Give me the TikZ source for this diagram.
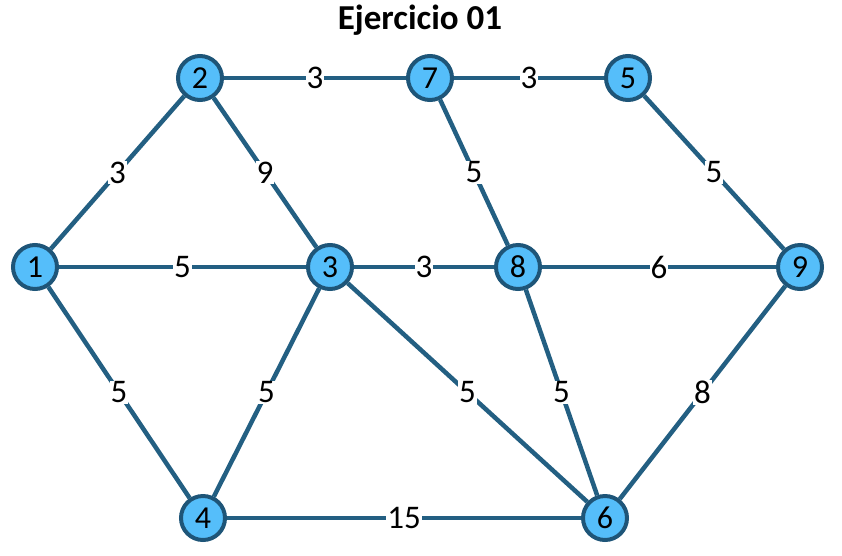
\documentclass[tikz,border=0pt]{standalone}
\usepackage{fontspec}
\setmainfont{Carlito}
\definecolor{edgec}{RGB}{35,95,130}
\definecolor{nodefill}{RGB}{85,190,250}
\definecolor{nodeborder}{RGB}{30,85,120}
\begin{document}
\begin{tikzpicture}[x=1pt,y=-1pt,
  vert/.style={circle,draw=nodeborder,line width=4pt,fill=nodefill,minimum size=44pt,inner sep=0pt,font=\fontsize{32}{32}\selectfont},
  edge/.style={draw=edgec,line width=4.5pt},
  wt/.style={fill=white,inner sep=1pt,font=\fontsize{33}{33}\selectfont}]
\useasboundingbox (0,0) rectangle (842,555);
\node[font=\bfseries\fontsize{35}{35}\selectfont] (title) at (420,20) {Ejercicio 01};
\node[vert] (n1) at (35,267) {1};
\node[vert] (n2) at (200,78) {2};
\node[vert] (n7) at (430,78) {7};
\node[vert] (n5) at (628,78) {5};
\node[vert] (n3) at (330,267) {3};
\node[vert] (n8) at (518,267) {8};
\node[vert] (n9) at (800,267) {9};
\node[vert] (n4) at (203,518) {4};
\node[vert] (n6) at (605,518) {6};
\path[edge] (n2) -- node[wt]{3} (n7);
\path[edge] (n7) -- node[wt]{3} (n5);
\path[edge] (n1) -- node[wt]{3} (n2);
\path[edge] (n2) -- node[wt]{9} (n3);
\path[edge] (n7) -- node[wt]{5} (n8);
\path[edge] (n5) -- node[wt]{5} (n9);
\path[edge] (n1) -- node[wt]{5} (n3);
\path[edge] (n3) -- node[wt]{3} (n8);
\path[edge] (n8) -- node[wt]{6} (n9);
\path[edge] (n1) -- node[wt]{5} (n4);
\path[edge] (n3) -- node[wt]{5} (n4);
\path[edge] (n3) -- node[wt]{5} (n6);
\path[edge] (n8) -- node[wt]{5} (n6);
\path[edge] (n9) -- node[wt]{8} (n6);
\path[edge] (n4) -- node[wt]{15} (n6);
\end{tikzpicture}
\end{document}
